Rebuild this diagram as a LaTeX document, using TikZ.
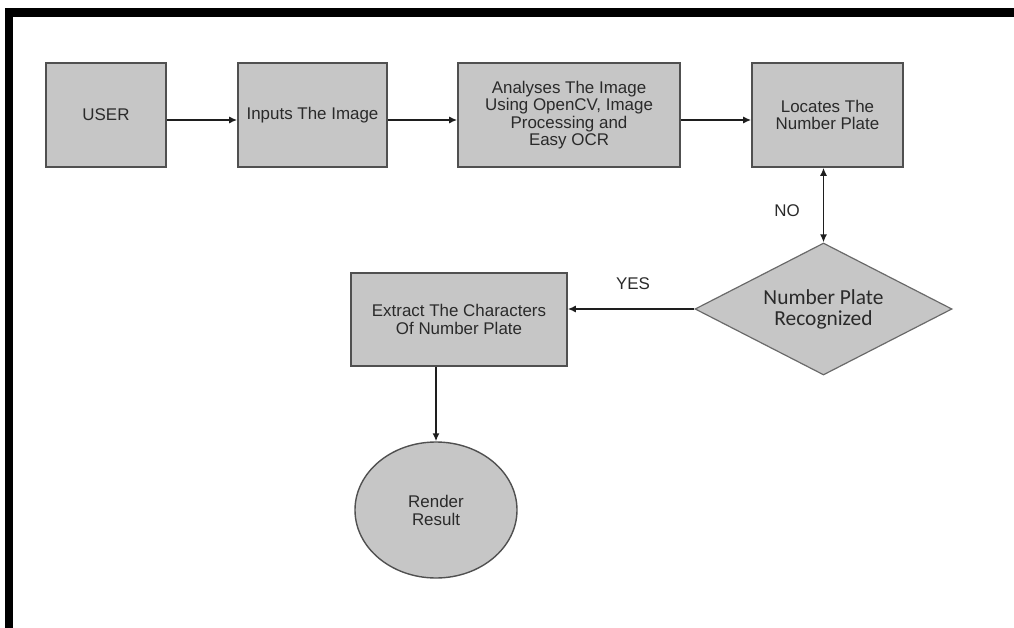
\documentclass[tikz,border=0pt]{standalone}
\usepackage{fontspec}
\setmainfont{Liberation Sans}
\newfontfamily\calfont{Carlito}
\usetikzlibrary{shapes.geometric,arrows.meta,calc}
\definecolor{boxfill}{HTML}{C6C6C6}
\definecolor{boxline}{HTML}{505050}
\definecolor{inktext}{HTML}{2A2A2A}
\definecolor{linkline}{HTML}{1E1E1E}
\begin{document}
\begin{tikzpicture}[x=1bp,y=-1bp,
  procbox/.style={draw=boxline,line width=1.6bp,fill=boxfill,rectangle,inner sep=0pt,
    text=inktext,align=center,font=\fontsize{17}{17.6}\selectfont},
  decision/.style={draw=boxline!85,line width=1.2bp,fill=boxfill,diamond,aspect=1.95,inner sep=0pt,
    minimum width=257bp,minimum height=132bp,text=inktext,align=center,
    font=\calfont\fontsize{21.5}{21}\selectfont},
  terminal/.style={draw=boxline,line width=1.4bp,fill=boxfill,ellipse,inner sep=0pt,
    minimum width=162bp,minimum height=136bp,text=inktext,align=center,
    font=\fontsize{17}{18}\selectfont},
  flow/.style={draw=linkline,line width=1.5bp,-{Latex[length=8bp,width=7bp]}},
  twoway/.style={draw=linkline,line width=1.5bp,{Latex[length=8bp,width=7bp]}-{Latex[length=8bp,width=7bp]}},
  tag/.style={text=inktext,font=\fontsize{17}{18}\selectfont,inner sep=0pt}]
  \useasboundingbox (0,0) rectangle (1014,628);
  % frame along the top and left edges
  \draw[line width=8.5bp,line join=miter] (9,628) -- (9,12.5) -- (1014,12.5);

  % top row of process steps
  \node[procbox,minimum width=120bp,minimum height=104bp] (user) at (106,115) {USER};
  \node[procbox,minimum width=149bp,minimum height=104bp] (inp) at (312.5,115) {Inputs The Image};
  \node[procbox,minimum width=222bp,minimum height=104bp] (ana) at (569,115)
    {Analyses The Image\\Using OpenCV, Image\\Processing and\\Easy OCR};
  \node[procbox,minimum width=151bp,minimum height=104bp] (loc) at (827.5,115)
    {Locates The\\Number Plate};

  % decision and the lower branch
  \node[decision] (dia) at (823.5,309) {Number Plate\\Recognized};
  \node[procbox,minimum width=216bp,minimum height=93bp] (ext) at (459,319.5)
    {Extract The Characters\\Of Number Plate};
  \node[terminal] (res) at (436,510) {Render\\Result};

  % connectors
  \draw[flow] ($(user.east)+(0,5)$) -- ($(inp.west)+(0,5)$);
  \draw[flow] ($(inp.east)+(0,5)$) -- ($(ana.west)+(0,5)$);
  \draw[flow] ($(ana.east)+(0,5)$) -- ($(loc.west)+(0,5)$);
  \draw[twoway] (dia.north |- loc.south) -- (dia.north);
  \draw[flow] (dia.west) -- (dia.west -| ext.east);
  \draw[flow] (res.north |- ext.south) -- (res.north);

  % branch labels
  \node[tag] (nolbl) at (787,211) {NO};
  \node[tag] (yeslbl) at (633,284) {YES};
\end{tikzpicture}
\end{document}
